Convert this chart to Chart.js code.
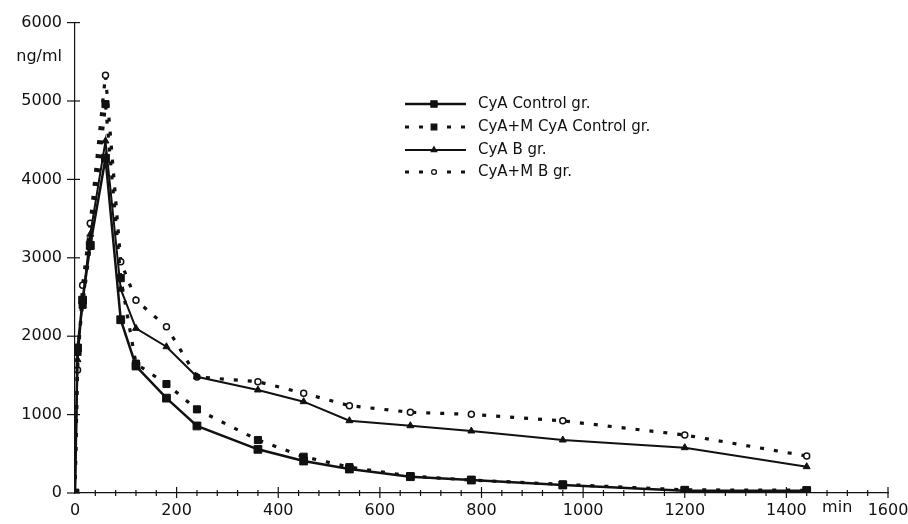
<!DOCTYPE html>
<html>
<head>
<meta charset="utf-8">
<style>
  html, body { margin: 0; padding: 0; background: #fff; }
  #wrap { width: 908px; height: 524px; }
</style>
</head>
<body>
<div id="wrap"><canvas id="pkChart" width="908" height="524"></canvas></div>
<script src="https://cdn.jsdelivr.net/npm/chart.js"></script>
<script>
// sampling times (min)
const times = [0, 5, 15, 30, 60, 90, 120, 180, 240, 360, 450, 540, 660, 780, 960, 1200, 1440];

// blood levels (ng/ml)
const cyaControl  = [0, 1850, 2460, 3160, 4270, 2210, 1620, 1210, 855, 557, 408, 306, 208, 166, 102, 30, 30];
const cyaMControl = [0, 1800, 2400, 3150, 4960, 2740, 1650, 1390, 1067, 676, 463, 330, 215, 165, 110, 40, 35];
const cyaB        = [0, 1700, 2450, 3300, 4490, 2600, 2100, 1866, 1483, 1314, 1165, 922, 858, 791, 676, 578, 336];
const cyaMB       = [0, 1570, 2650, 3440, 5330, 2950, 2460, 2120, 1480, 1420, 1272, 1114, 1029, 1003, 920, 740, 472];

const seriesNames = ['CyA Control gr.', 'CyA+M CyA Control gr.', 'CyA B gr.', 'CyA+M B gr.'];
const xLabelTicks = [0, 200, 400, 600, 800, 1000, 1200, 1400, 1600];
const yLabelTicks = [0, 1000, 2000, 3000, 4000, 5000, 6000];

const ink = '#111';
const font = 'DejaVu Sans';

function pts(ys) {
    return times.map((t, i) => ({x: t, y: ys[i]}));
}

// axis tick marks crossing the axis lines, extra labels, legend
const decor = {
    id: 'decor',
    afterDraw(chart) {
        const c = chart.ctx;
        const xs = chart.scales.x, ys = chart.scales.y;
        const x0 = xs.getPixelForValue(0), y0 = ys.getPixelForValue(0);
        c.save();
        c.strokeStyle = ink;
        c.lineWidth = 1.2;
        // y ticks
        yLabelTicks.forEach(v => {
            const y = ys.getPixelForValue(v);
            c.beginPath(); c.moveTo(x0 - 8, y); c.lineTo(x0 + 5, y); c.stroke();
        });
        // x ticks: minor every 40 min, labelled every 200
        for (let v = 40; v <= 1600; v += 40) {
            const x = xs.getPixelForValue(v);
            const big = v % 200 === 0;
            c.beginPath(); c.moveTo(x, y0 - (big ? 6 : 3)); c.lineTo(x, y0 + (big ? 5 : 3)); c.stroke();
        }
        c.fillStyle = ink;
        c.font = '16px "' + font + '"';
        c.textAlign = 'right'; c.textBaseline = 'middle';
        c.fillText('ng/ml', 62, 57);
        c.textAlign = 'center';
        c.fillText('min', xs.getPixelForValue(1500), 508);

        // legend
        const rows = [104, 127, 150, 172];
        c.font = '15px "' + font + '"';
        chart.data.datasets.forEach((ds, i) => {
            const y = rows[i];
            c.save();
            c.strokeStyle = ds.borderColor;
            c.lineWidth = ds.borderWidth;
            c.setLineDash(ds.borderDash || []);
            c.beginPath(); c.moveTo(405, y); c.lineTo(466, y); c.stroke();
            c.restore();
            c.save();
            c.fillStyle = ds.pointBackgroundColor;
            c.strokeStyle = ds.pointBorderColor;
            Chart.helpers.drawPoint(c, {
                pointStyle: ds.pointStyle, radius: ds.pointRadius * 0.8,
                rotation: 0, borderWidth: ds.pointBorderWidth
            }, 434, y);
            c.restore();
            c.fillStyle = ink;
            c.textAlign = 'left';
            c.fillText(ds.label, 478, y);
        });
        c.restore();
    }
};

new Chart(document.getElementById('pkChart'), {
    type: 'line',
    data: {
        datasets: [{
            label: seriesNames[0],
            data: pts(cyaControl),
            borderColor: ink, borderWidth: 2.5,
            pointStyle: 'rect', pointRadius: 5.5,
            pointBackgroundColor: ink, pointBorderColor: ink, pointBorderWidth: 1
        }, {
            label: seriesNames[1],
            data: pts(cyaMControl),
            borderColor: ink, borderWidth: 3.2, borderDash: [4, 10],
            pointStyle: 'rect', pointRadius: 5,
            pointBackgroundColor: ink, pointBorderColor: ink, pointBorderWidth: 1
        }, {
            label: seriesNames[2],
            data: pts(cyaB),
            borderColor: ink, borderWidth: 2,
            pointStyle: 'triangle', pointRadius: 4,
            pointBackgroundColor: ink, pointBorderColor: ink, pointBorderWidth: 1
        }, {
            label: seriesNames[3],
            data: pts(cyaMB),
            borderColor: ink, borderWidth: 3.2, borderDash: [4, 10],
            pointStyle: 'circle', pointRadius: 3,
            pointBackgroundColor: '#fff', pointBorderColor: ink, pointBorderWidth: 1.5
        }]
    },
    options: {
        animation: false,
        responsive: false,
        layout: { padding: { top: 22, right: 20, left: 0, bottom: 0 } },
        plugins: { legend: { display: false }, tooltip: { enabled: false } },
        elements: { line: { tension: 0, borderCapStyle: 'butt' } },
        scales: {
            x: {
                type: 'linear', min: 0, max: 1600,
                afterFit: s => { s.height = 31; s.paddingRight = 0; },
                afterBuildTicks: s => { s.ticks = xLabelTicks.map(v => ({value: v})); },
                grid: { display: false, drawTicks: false },
                border: { display: true, color: ink, width: 1.2 },
                ticks: { padding: 8, color: ink, font: { family: font, size: 16 }, maxRotation: 0,
                         callback: v => String(v) }
            },
            y: {
                min: 0, max: 6000,
                afterFit: s => { s.width = 75; },
                afterBuildTicks: s => { s.ticks = yLabelTicks.map(v => ({value: v})); },
                grid: { display: false, drawTicks: false },
                border: { display: true, color: ink, width: 1.2 },
                ticks: { padding: 13, color: ink, font: { family: font, size: 16 },
                         callback: v => String(v) }
            }
        }
    },
    plugins: [decor]
});
</script>
</body>
</html>
